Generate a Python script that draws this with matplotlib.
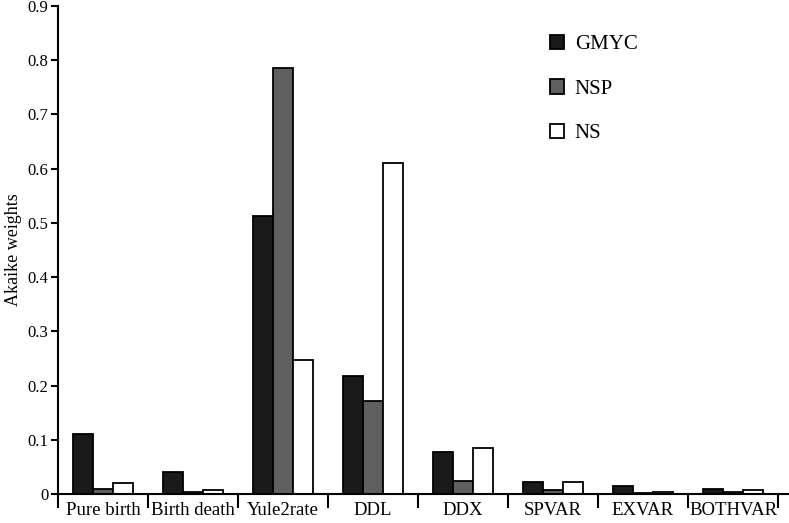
import numpy as np
import matplotlib
matplotlib.use("Agg")
import matplotlib.pyplot as plt

plt.rcParams['font.family'] = ['Liberation Serif', 'DejaVu Serif']

# model categories and Akaike weights per method
models = ['Pure birth', 'Birth death', 'Yule2rate', 'DDL', 'DDX', 'SPVAR', 'EXVAR', 'BOTHVAR']
gmyc = [0.110, 0.041, 0.513, 0.218, 0.078, 0.022, 0.015, 0.009]
nsp = [0.009, 0.003, 0.785, 0.171, 0.024, 0.007, 0.001, 0.003]
ns = [0.020, 0.007, 0.247, 0.611, 0.084, 0.022, 0.003, 0.008]

series = [('GMYC', gmyc, '#1a1a1a'), ('NSP', nsp, '#5f5f5f'), ('NS', ns, 'white')]

fig = plt.figure(figsize=(7.89, 5.23), dpi=100)
ax = fig.add_axes([0.0735, 0.0555, 0.9265, 0.933])

x = np.arange(len(models))
w = 0.222
for i, (name, vals, col) in enumerate(series):
    ax.bar(x + (i - 1) * w, vals, width=w, color=col, edgecolor='black',
           linewidth=1.3, label=name)

ax.set_xlim(-0.5, 7.622)
ax.set_ylim(0, 0.9)
ax.set_yticks(np.arange(0, 0.91, 0.1))
ax.set_yticklabels(['0'] + ['%.1f' % v for v in np.arange(0.1, 0.91, 0.1)], fontsize=12)

# category boundary ticks, labels at centres
ax.set_xticks(np.arange(len(models) + 1) - 0.5)
ax.set_xticklabels([])
ax.set_xticks(x, minor=True)
ax.set_xticklabels(models, minor=True, fontsize=13.5)
ax.tick_params(axis='x', which='major', direction='out', length=10, width=1.5)
ax.tick_params(axis='x', which='minor', length=0, pad=6)
ax.tick_params(axis='y', direction='out', length=5, width=1.5, pad=2)

ax.spines['top'].set_visible(False)
ax.spines['right'].set_visible(False)
ax.spines['left'].set_linewidth(1.5)
ax.spines['bottom'].set_linewidth(1.5)

ax.set_ylabel('Akaike weights', fontsize=13, labelpad=4)

ax.legend(loc='upper left', bbox_to_anchor=(0.647, 0.98), frameon=False,
          fontsize=15, handlelength=0.7, handleheight=0.7, labelspacing=1.2,
          handletextpad=0.5)

fig.savefig('out.png', dpi=100)
